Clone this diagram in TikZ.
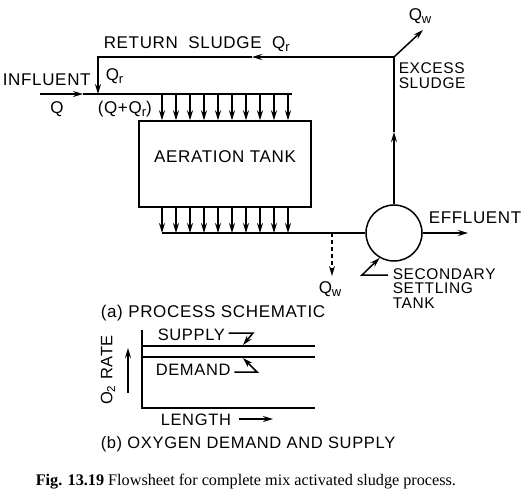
\documentclass[tikz,border=0pt]{standalone}
\usepackage{fontspec}
\setmainfont{Liberation Serif}
\newfontfamily\lettering[LetterSpace=4]{Liberation Sans}
\newcommand\lowsub[1]{\raisebox{-3pt}{\fontsize{13}{13}\selectfont #1}}
\usetikzlibrary{arrows.meta, calc}

\begin{document}
\begin{tikzpicture}[x=1pt, y=-1pt, line width=1.5pt,
    arr/.style={-{Stealth[length=10pt, width=6pt]}},
    lbl/.style={font=\lettering\fontsize{17}{17}\selectfont, inner sep=0pt},
    small/.style={font=\lettering\fontsize{16.5}{13.5}\selectfont, inner sep=0pt, align=left},
    stack/.style={font=\lettering\fontsize{15.5}{14.5}\selectfont, inner sep=0pt, align=left}]
  \useasboundingbox (0,0) rectangle (528,499);

  % aeration tank and secondary settling tank
  \node[draw, lbl, minimum width=172pt, minimum height=86pt, text depth=14pt] (tank) at (225,164) {AERATION TANK};
  \node[draw, circle, minimum size=56pt, inner sep=0pt] (clar) at (394,233) {};

  % flow lines
  \coordinate (inf) at (40,94);
  \coordinate (infarrow) at (83,94);
  \coordinate (mix) at (98,94);
  \coordinate (feedend) at (292,94);
  \coordinate (retcorner) at (98,57);
  \coordinate (split) at (clar.north |- retcorner);
  \coordinate (retarrow) at (252,57);
  \coordinate (riserarrow) at (394,132);
  \coordinate (wasteout) at (423,30);
  \coordinate (collect) at (162,233);
  \coordinate (wastejn) at (332,233);
  \coordinate (wasteq) at (332,276);
  \coordinate (effout) at (468,233);

  \draw[arr] (inf) -- (infarrow);
  \draw (infarrow) -- (feedend);
  \draw[arr] (split) -- (retarrow);
  \draw[arr] (retarrow) -- (retcorner) -- (mix);
  \draw[arr] (clar.north) -- (riserarrow);
  \draw (riserarrow) -- (split);
  \draw[arr] (split) -- (wasteout);
  \draw (collect) -- (clar.west);
  \draw[arr, dash pattern=on 4pt off 3pt] (wastejn) -- (wasteq);
  \draw[arr] (clar.east) -- (effout);

  % diffuser arrows above and below the tank
  \foreach \x in {162,176,...,290} {
    \draw[arr] (\x,0 |- mix) -- (\x,0 |- tank.north);
    \draw[arr] (\x,0 |- tank.south) -- (\x,0 |- collect);
  }

  % flow labels
  \node[lbl, anchor=base west] (ret) at (103,48) {RETURN\hspace{5pt} SLUDGE\hspace{5pt} Q\lowsub{r}};
  \node[lbl, anchor=base west] (inflbl) at (2,85) {INFLUENT};
  \node[lbl, anchor=base] (qin) at (57,113) {Q};
  \node[lbl, anchor=base west] (qr) at (105,80) {Q\lowsub{r}};
  \node[lbl, anchor=base west] (qmix) at (97,113) {(Q+Q\lowsub{r})};
  \node[lbl, anchor=base west] (qwtop) at (408,20) {Q\lowsub{w}};
  \node[stack, anchor=base west] (excess) at (398,88) {EXCESS\\SLUDGE};
  \node[lbl, anchor=base west] (eff) at (428,223) {EFFLUENT};
  \node[lbl, anchor=base west] (qwbot) at (318,293) {Q\lowsub{w}};
  \node[stack, anchor=base west] (sst) at (392,308) {SECONDARY\\SETTLING\\TANK};
  \coordinate (sstbend) at (362,275);
  \draw[arr] (388,275 |- sstbend) -- (sstbend) -- (clar.240);
  \node[lbl, anchor=base west] (capa) at (100,317) {(a) PROCESS SCHEMATIC};

  % oxygen demand and supply chart
  \coordinate (origin) at (142,408);
  \coordinate (ytop) at (142,330);
  \coordinate (xend) at (315,408);
  \coordinate (sup0) at (142,346);
  \coordinate (sup1) at (315,346);
  \coordinate (dem0) at (142,357);
  \coordinate (dem1) at (315,357);
  \draw (ytop) -- (origin) -- (xend);
  \draw (sup0) -- (sup1);
  \draw (dem0) -- (dem1);

  \node[small, anchor=base west] (supply) at (157,340) {SUPPLY};
  \coordinate (supbend) at (253,333);
  \coordinate (suptip) at (243,345);
  \draw[arr, shorten <=3pt] (supply.east |- supbend) -- (supbend) -- (suptip);
  \node[small, anchor=base west] (demand) at (155,375) {DEMAND};
  \coordinate (dembend) at (257,372);
  \coordinate (demtip) at (243,358);
  \draw[arr, shorten <=3pt] (demand.east |- dembend) -- (dembend) -- (demtip);

  \node[small, rotate=90] (o2) at (108,370) {O\textsubscript{2} RATE};
  \coordinate (o2a) at (128,393);
  \coordinate (o2b) at (128,348);
  \draw[arr] (o2a) -- (o2b);
  \node[small, anchor=base west] (len) at (160,425) {LENGTH};
  \coordinate (lenarrow) at (273,419);
  \draw[arr, shorten <=7pt] (len.east |- lenarrow) -- (lenarrow);
  \node[lbl, anchor=base west, font=\lettering\fontsize{16.5}{17}\selectfont] (capb) at (100,448) {(b) OXYGEN DEMAND AND SUPPLY};

  % caption
  \node[anchor=base west, inner sep=0pt, font=\fontsize{16.2}{16}\selectfont] (caption) at (35,485)
    {\textbf{Fig. 13.19} Flowsheet for complete mix activated sludge process.};
\end{tikzpicture}
\end{document}
